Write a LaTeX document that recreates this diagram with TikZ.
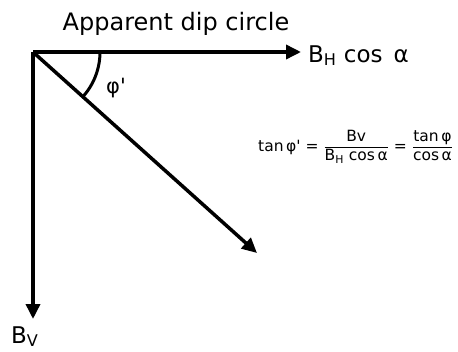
\documentclass[tikz,border=0pt]{standalone}
\usepackage{fontspec}
\setmainfont{DejaVu Sans}
\usepackage{tikz}
\usetikzlibrary{arrows.meta, positioning, calc}

\newcommand{\prm}{\textquotesingle}

\begin{document}
\begin{tikzpicture}[
    x=1pt, y=-1pt,
    vec/.style={-{Triangle[length=15pt, width=14pt]}, line width=3.5pt},
    lbl/.style={font=\fontsize{23}{27}\selectfont, inner sep=0pt},
    title/.style={font=\fontsize{24}{28}\selectfont},
    eqn/.style={font=\fontsize{15.5}{18}\selectfont, inner sep=0pt},
]
\useasboundingbox (0,0) rectangle (458,351);

\coordinate (o) at (33,52);
\coordinate (h) at (301,52);
\coordinate (v) at (33,319);
\coordinate (d) at (257,253);

\node[title] (ttl) at (176,24) {Apparent dip circle};

% components
\draw[vec] (o) -- (h);
\draw[vec] (o) -- (v);
\draw[vec] (o) -- (d);

\node[lbl, anchor=base west] (bh) at (308,62) {B\textsubscript{H} cos\, α};
\node[lbl, anchor=base west] (bv) at (11,343) {B\textsubscript{V}};

% angle phi'
\draw[line width=3pt] ($(o)+(67,0)$) arc[start angle=0, end angle=42, radius=67];
\node[lbl, font=\fontsize{21}{25}\selectfont, anchor=base west] (phi) at (106,93) {φ\prm};

\node[eqn, anchor=west] (eq) at (258,147)
    {tan\,φ\prm\ = $\displaystyle\frac{\hbox{Bv}}{\hbox{B\textsubscript{H} cos\,α}}$ = $\displaystyle\frac{\hbox{tan\,φ}}{\hbox{cos\,α}}$};
\end{tikzpicture}
\end{document}
